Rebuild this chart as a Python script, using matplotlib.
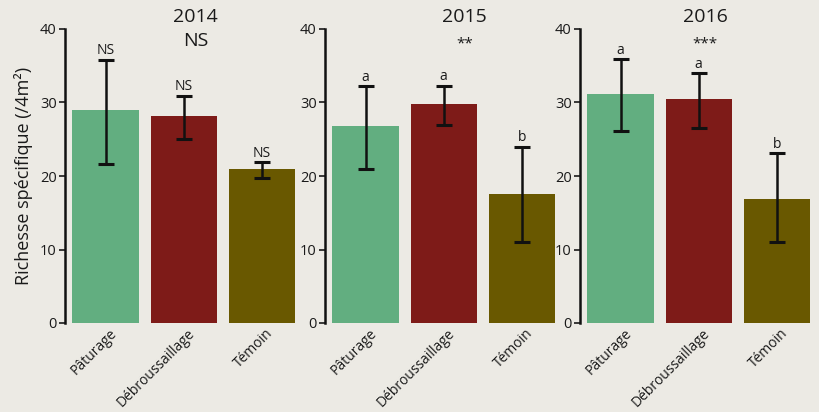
import numpy as np
import matplotlib
matplotlib.use("Agg")
import matplotlib.pyplot as plt
import matplotlib.transforms as mtransforms

plt.rcParams['font.family'] = ['Open Sans', 'DejaVu Sans']

treatments = ["Pâturage", "Débroussaillage", "Témoin"]
years = ["2014", "2015", "2016"]
signif = ["NS", "**", "***"]

means_2014 = [29.0, 28.1, 21.0]
low_2014 = [21.6, 25.0, 19.7]
high_2014 = [35.8, 30.9, 21.9]
letters_2014 = ["NS", "NS", "NS"]

means_2015 = [26.8, 29.8, 17.6]
low_2015 = [21.0, 27.0, 11.0]
high_2015 = [32.2, 32.3, 24.0]
letters_2015 = ["a", "a", "b"]

means_2016 = [31.1, 30.5, 16.9]
low_2016 = [26.1, 26.5, 11.0]
high_2016 = [35.9, 34.0, 23.1]
letters_2016 = ["a", "a", "b"]

colors = ["#62AE80", "#7E1B18", "#695800"]
bg = "#ECEAE4"

panels = [
    (means_2014, low_2014, high_2014, letters_2014),
    (means_2015, low_2015, high_2015, letters_2015),
    (means_2016, low_2016, high_2016, letters_2016),
]
title_x = [1.15, 1.27, 1.08]
lefts = [65, 325, 580]

fig = plt.figure(figsize=(8.19, 4.12), dpi=100, facecolor=bg)
x = np.arange(len(treatments))
shift = mtransforms.ScaledTranslation(4 / 100, 0, fig.dpi_scale_trans)
for i, (m, lo, hi, let) in enumerate(panels):
    ax = fig.add_axes([lefts[i] / 819, 89 / 412, 232 / 819, 294 / 412])
    ax.set_facecolor(bg)
    ax.bar(x, m, width=0.85, color=colors)
    m = np.array(m)
    yerr = [m - np.array(lo), np.array(hi) - m]
    ax.errorbar(x, m, yerr=yerr, fmt='none', ecolor='#111111',
                elinewidth=1.8, capsize=6, capthick=2.2)
    for xi, h, t in zip(x, hi, let):
        ax.text(xi, h + 0.2, t, ha='center', va='bottom', fontsize=10,
                color='#1a1a1a')
    ax.text(title_x[i], 41.6, years[i], ha='center', va='center',
            fontsize=14, color='#1a1a1a', clip_on=False)
    ax.text(title_x[i], 38.3 if i == 0 else 38.0, signif[i], ha='center',
            va='center', fontsize=14 if i == 0 else 11, color='#1a1a1a',
            clip_on=False)
    ax.set_xlim(-0.52, 2.45)
    ax.set_ylim(0, 40)
    ax.set_yticks([0, 10, 20, 30, 40])
    ax.tick_params(axis='y', length=4, width=1.2, labelsize=10.5,
                   colors='#1a1a1a', pad=2)
    ax.tick_params(axis='x', length=0, pad=2)
    ax.set_xticks(x)
    ax.set_xticklabels(treatments, rotation=45, ha='right',
                       rotation_mode='anchor', fontsize=10, color='#1a1a1a')
    for lab in ax.get_xticklabels():
        lab.set_transform(lab.get_transform() + shift)
    for s in ['top', 'right', 'bottom']:
        ax.spines[s].set_visible(False)
    ax.spines['left'].set_linewidth(1.8)
    ax.spines['left'].set_color('#111111')
    if i == 0:
        ax.set_ylabel("Richesse spécifique (/4m²)", fontsize=13,
                      color='#1a1a1a', labelpad=5)

fig.savefig("out.png", dpi=100, facecolor=bg)
